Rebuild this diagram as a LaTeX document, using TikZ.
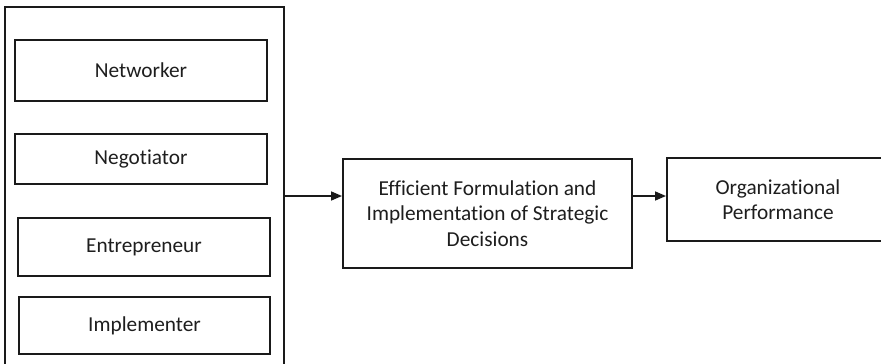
\documentclass[tikz,border=0pt]{standalone}
\usepackage{fontspec}
\setmainfont{Carlito}[Ligatures=NoCommon]
\usetikzlibrary{arrows.meta}
\definecolor{ink}{HTML}{1A1A1A}
\definecolor{txt}{HTML}{1E1E1E}
\begin{document}
\begin{tikzpicture}[x=1pt,y=-1pt,
  box/.style={draw=ink, line width=2pt, rectangle, inner sep=0pt,
    align=center, text=txt, font=\fontsize{21.3}{25.5}\selectfont},
  link/.style={draw=ink, line width=1.6pt,
    -{Triangle[length=11pt,width=9pt]}}]
  \useasboundingbox (0,0) rectangle (881,364);
  \clip (0,0) rectangle (881,364);
  \fill[white] (0,0) rectangle (881,364);

  % container of the four roles (runs past the lower edge)
  \node[box, minimum width=279pt, minimum height=366pt] (roles) at (144.5,190) {};

  \node[box, minimum width=252pt, minimum height=61pt] (networker) at (141,70.5) {Networker};
  \node[box, minimum width=252pt, minimum height=50pt] (negotiator) at (141,159) {Negotiator};
  \node[box, minimum width=252pt, minimum height=58pt] (entrepreneur) at (144,247) {Entrepreneur};
  \node[box, minimum width=251pt, minimum height=57pt] (implementer) at (144.5,325.5) {Implementer};

  \node[box, minimum width=289pt, minimum height=109pt] (strategy) at (487.5,213.5)
    {Efficient Formulation and\\Implementation of Strategic\\Decisions};

  % outcome box (continues beyond the right edge)
  \node[box, minimum width=222pt, minimum height=83pt] (performance) at (778,199.5)
    {Organizational\\Performance};

  \coordinate (row) at (0,196);
  \draw[link] (roles.east |- row) -- (strategy.west |- row);
  \draw[link] (strategy.east |- row) -- (performance.west |- row);
\end{tikzpicture}
\end{document}
